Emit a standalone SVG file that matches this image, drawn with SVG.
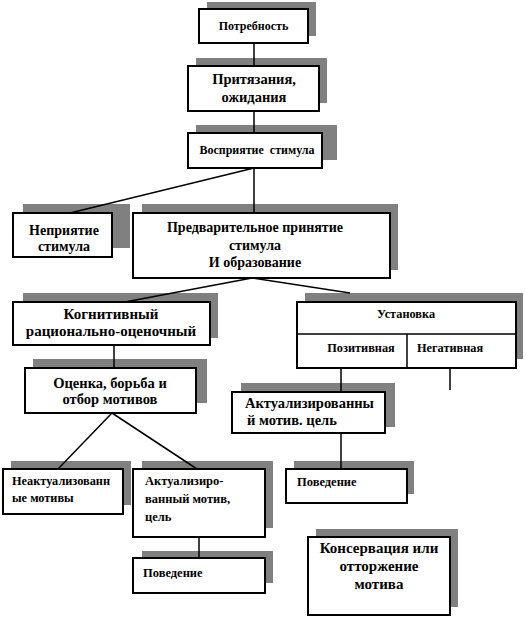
<svg xmlns="http://www.w3.org/2000/svg" width="526" height="619" viewBox="0 0 526 619">
<style>
.sh{fill:#808080;stroke:none}
.bx{fill:#fff;stroke:#000;stroke-width:2}
.ln{stroke:#000;stroke-width:1.5;fill:none}
text{font-family:'Liberation Serif','Times New Roman',serif;font-weight:bold;fill:#000}
.c{text-anchor:middle}
</style>
<rect width="526" height="619" fill="#fff"/>
<g id="n1">
<rect class="sh" x="207" y="2" width="109" height="34"/>
<rect class="bx" x="199" y="9" width="109" height="34"/>
<text class="c" font-size="12" x="253.5" y="30">Потребность</text>
</g>
<g id="n2">
<rect class="sh" x="196" y="58" width="131" height="45"/>
<rect class="bx" x="188" y="66" width="131" height="45"/>
<text class="c" font-size="14.5" x="254" y="84">Притязания,</text>
<text class="c" font-size="14.5" x="254" y="102">ожидания</text>
</g>
<g id="n3">
<rect class="sh" x="196" y="125" width="141" height="35"/>
<rect class="bx" x="188" y="133" width="134" height="35"/>
<text class="c" font-size="12" x="257" y="154" xml:space="preserve">Восприятие  стимула</text>
</g>
<g id="n4">
<rect class="sh" x="23" y="204" width="107" height="44"/>
<rect class="bx" x="13" y="213" width="99" height="44"/>
<text class="c" font-size="14" x="64" y="235">Неприятие</text>
<text class="c" font-size="14" x="64" y="251">стимула</text>
</g>
<g id="n5">
<rect class="sh" x="142" y="204" width="256" height="66"/>
<rect class="bx" x="133" y="213" width="257" height="65"/>
<text class="c" font-size="14" x="255" y="232">Предварительное принятие</text>
<text class="c" font-size="14" x="255" y="250">стимула</text>
<text class="c" font-size="14" x="255" y="267">И образование</text>
</g>
<g id="n6">
<rect class="sh" x="23" y="293" width="195" height="45"/>
<rect class="bx" x="13" y="302" width="197" height="43"/>
<text class="c" font-size="15" x="111" y="319">Когнитивный</text>
<text class="c" font-size="15" x="111" y="336">рационально-оценочный</text>
</g>
<g id="n7">
<rect class="sh" x="33" y="359" width="174" height="44"/>
<rect class="bx" x="25" y="368" width="171" height="45"/>
<text class="c" font-size="14.5" x="110" y="388">Оценка, борьба и</text>
<text class="c" font-size="14.5" x="110" y="404">отбор мотивов</text>
</g>
<g id="n8">
<rect class="sh" x="305" y="293" width="218" height="66"/>
<rect class="bx" x="297" y="302" width="219" height="66"/>
<line class="ln" x1="297" y1="334" x2="516" y2="334"/>
<line class="ln" x1="407" y1="334" x2="407" y2="368"/>
<text class="c" font-size="12.3" x="406" y="318">Установка</text>
<text class="c" font-size="12.3" x="361" y="352">Позитивная</text>
<text class="c" font-size="12.3" x="450" y="352">Негативная</text>
</g>
<g id="n9">
<rect class="sh" x="241" y="383" width="154" height="44"/>
<rect class="bx" x="232" y="392" width="153" height="41"/>
<text font-size="14.5" x="245" y="408">Актуализированны</text>
<text font-size="14.5" x="247" y="425">й мотив. цель</text>
</g>
<g id="n10">
<rect class="sh" x="11" y="461" width="120" height="44"/>
<rect class="bx" x="3" y="469" width="120" height="45"/>
<text font-size="12.3" x="12" y="485">Неактуализованн</text>
<text font-size="12.3" x="12" y="502">ые мотивы</text>
</g>
<g id="n11">
<rect class="sh" x="142" y="461" width="131" height="67"/>
<rect class="bx" x="133" y="469" width="132" height="68"/>
<text font-size="12.5" x="145" y="485">Актуализиро-</text>
<text font-size="12.5" x="145" y="503">ванный мотив,</text>
<text font-size="12.5" x="145" y="521">цель</text>
</g>
<g id="n12">
<rect class="sh" x="142" y="551" width="131" height="32"/>
<rect class="bx" x="133" y="558" width="132" height="35"/>
<text font-size="12.5" x="143" y="577">Поведение</text>
</g>
<g id="n13">
<rect class="sh" x="294" y="461" width="120" height="33"/>
<rect class="bx" x="286" y="469" width="121" height="34"/>
<text font-size="12.5" x="297" y="486">Поведение</text>
</g>
<g id="n14">
<rect class="sh" x="316" y="529" width="142" height="78"/>
<rect class="bx" x="308" y="537" width="142" height="78"/>
<text class="c" font-size="15" x="379" y="553">Консервация или</text>
<text class="c" font-size="15" x="379" y="571">отторжение</text>
<text class="c" font-size="15" x="379" y="589">мотива</text>
</g>
<g id="connectors">
<line class="ln" x1="254" y1="43" x2="254" y2="66"/>
<line class="ln" x1="254" y1="111" x2="254" y2="133"/>
<line class="ln" x1="254" y1="168" x2="254" y2="213"/>
<line class="ln" x1="254" y1="168" x2="70" y2="213"/>
<line class="ln" x1="252" y1="278" x2="125" y2="302"/>
<line class="ln" x1="252" y1="278" x2="350" y2="293"/>
<line class="ln" x1="114" y1="345" x2="114" y2="368"/>
<line class="ln" x1="112" y1="413" x2="58" y2="469"/>
<line class="ln" x1="112" y1="413" x2="197" y2="469"/>
<line class="ln" x1="341" y1="368" x2="341" y2="392"/>
<line class="ln" x1="450" y1="368" x2="450" y2="390"/>
<line class="ln" x1="341" y1="433" x2="341" y2="469"/>
<line class="ln" x1="199" y1="537" x2="199" y2="558"/>
</g>
</svg>
